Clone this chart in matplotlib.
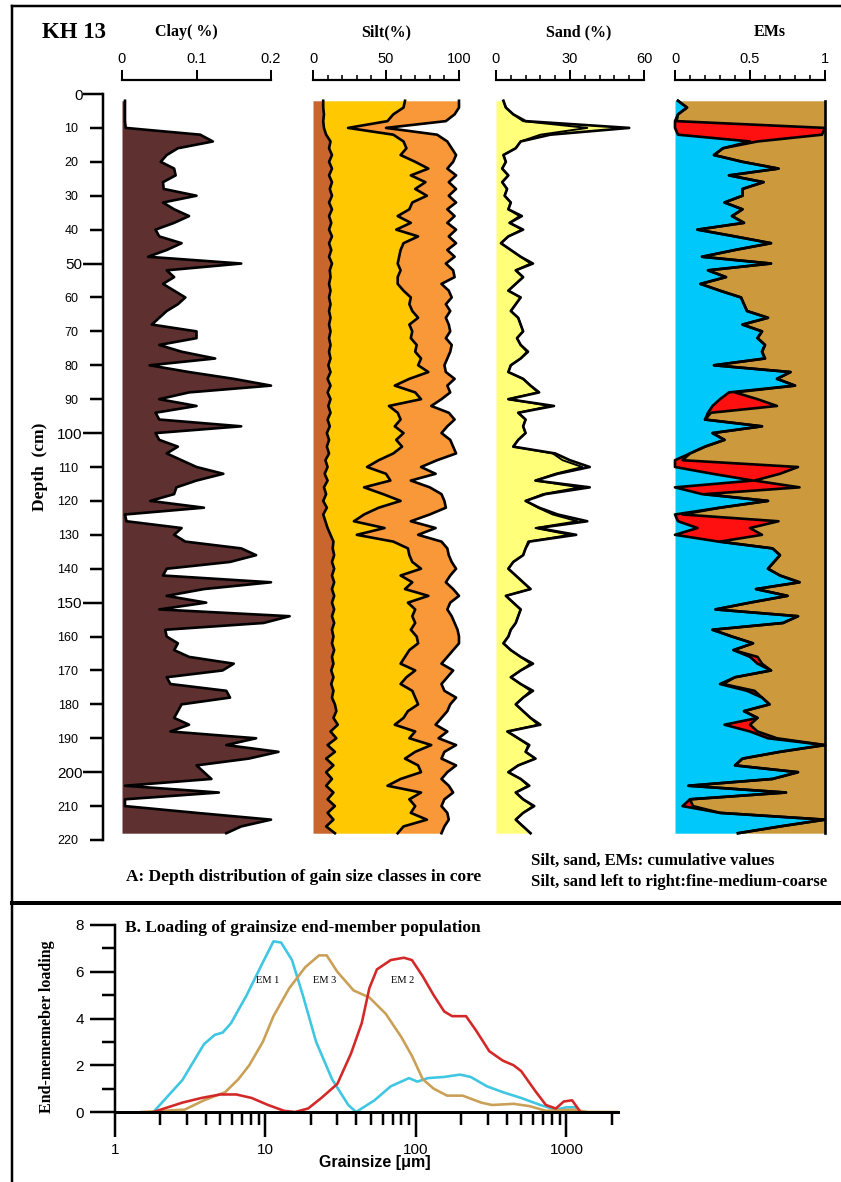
import numpy as np
import matplotlib
matplotlib.use("Agg")
import matplotlib.pyplot as plt
from matplotlib.lines import Line2D
from matplotlib.ticker import FixedLocator, FixedFormatter, LogLocator, NullFormatter

# ---------------------------------------------------------------- data
depth = list(range(2, 220, 2))

clay = [0.004, 0.004, 0.004, 0.004, 0.005, 0.105, 0.122, 0.075, 0.06, 0.052,
        0.07, 0.072, 0.055, 0.056, 0.10, 0.055, 0.07, 0.09, 0.07, 0.045,
        0.05, 0.08, 0.06, 0.035, 0.16, 0.06, 0.07, 0.055, 0.07, 0.085,
        0.075, 0.06, 0.05, 0.04, 0.10, 0.10, 0.05, 0.08, 0.125, 0.037,
        0.09, 0.15, 0.20, 0.09, 0.05, 0.10, 0.045, 0.05, 0.16, 0.045,
        0.05, 0.075, 0.06, 0.08, 0.10, 0.136, 0.10, 0.073, 0.07, 0.038,
        0.11, 0.004, 0.006, 0.08, 0.07, 0.085, 0.16, 0.18, 0.145, 0.06,
        0.055, 0.20, 0.11, 0.06, 0.113, 0.05, 0.225, 0.19, 0.058, 0.06,
        0.075, 0.07, 0.09, 0.15, 0.135, 0.06, 0.065, 0.14, 0.145, 0.08,
        0.075, 0.07, 0.09, 0.065, 0.18, 0.14, 0.21, 0.17, 0.10, 0.11,
        0.12, 0.004, 0.13, 0.004, 0.004, 0.10, 0.20, 0.16, 0.14]

# silt, cumulative percent (fine / fine+medium / fine+medium+coarse)
silt_fine = [7, 7, 7.5, 7, 7.5, 9, 12, 11, 13, 11,
             13, 11, 13, 11.5, 13, 11, 13, 11, 12.5, 11,
             13, 11, 12.5, 11, 13, 11.5, 12, 11, 12, 11,
             12, 11, 12, 11, 12, 11, 12, 11, 12, 10.5,
             12, 10, 12, 10, 12, 10.5, 12, 10, 11.5, 9.5,
             11, 9.5, 11, 8.5, 10, 8, 10, 7.5, 9, 7,
             9.5, 7, 8.5, 10, 12, 14, 13.5, 14.5, 13, 14.5,
             13, 14.5, 13, 14.5, 13, 14.5, 13, 14.5, 13, 14,
             13, 14.5, 13, 14, 12.5, 14, 12.5, 14, 13, 15,
             16, 14, 17, 12, 16, 10, 15, 9, 14, 9,
             13, 9, 14, 10, 15, 10, 14, 9, 15]
silt_medium = [63, 62, 55, 51, 24, 55, 62, 64, 60, 70,
               79, 67, 77, 70, 78, 68, 66, 58, 67, 57,
               72, 62, 60, 59, 58, 60, 58, 58, 62, 67,
               66, 68, 72, 66, 68, 67, 71, 70, 74, 72,
               79, 66, 56, 70, 74, 52, 58, 60, 56, 62,
               57, 61, 55, 45, 37, 50, 53, 35, 48, 60,
               45, 35, 28, 49, 30, 55, 65, 66, 68, 74,
               60, 68, 63, 79, 65, 70, 68, 70, 67, 71,
               72, 66, 63, 60, 70, 64, 60, 68, 70, 72,
               65, 62, 56, 70, 66, 81, 70, 63, 72, 74,
               60, 51, 74, 66, 70, 67, 78, 62, 58]
silt_coarse = [100, 100, 97, 91, 50, 85, 92, 95, 98, 96,
               92, 98, 93, 98, 93, 98, 92, 97, 92, 98,
               93, 98, 92, 97, 91, 96, 97, 88, 93, 95,
               91, 94, 91, 93, 94, 91, 95, 94, 92, 90,
               91, 97, 92, 94, 88, 81, 93, 97, 92, 88,
               94, 96, 98, 85, 74, 84, 67, 80, 88, 90,
               91, 80, 67, 84, 72, 88, 92, 93, 95, 98,
               94, 91, 96, 100, 94, 92, 95, 97, 99, 100,
               100, 96, 92, 88, 96, 92, 88, 90, 98, 94,
               92, 88, 84, 92, 86, 98, 90, 88, 98, 92,
               88, 93, 96, 90, 88, 92, 93, 90, 88]

# sand, cumulative percent (fine+medium, total)
sand_fm = [3, 4, 7, 11, 37, 18, 10, 8, 3, 4,
           2.5, 5, 2.5, 4.5, 3.5, 6, 5, 9.5, 5.5, 10.5,
           5, 2, 6, 10, 14, 8, 11, 8, 5, 10,
           8, 6, 9, 10, 11, 8.5, 10, 12.5, 10, 6,
           5, 11, 14, 17, 5, 22, 9, 12, 11, 12,
           9, 7, 23, 27, 35, 24, 16, 34, 19, 12,
           17, 23, 33, 16, 30, 13, 12, 11, 7, 5,
           8, 11, 14, 4, 7, 10, 9, 8, 6, 5,
           3, 6, 10, 14, 10, 6, 10, 14, 11, 8,
           11, 14, 17, 4.6, 9, 13, 12, 16, 9, 5,
           10, 13, 8, 11, 15, 11, 8, 11, 14]
sand_total = [3, 4, 7, 12, 54, 22, 10, 8, 3, 4,
              2.5, 5, 2.5, 4.5, 3.5, 6, 5, 10.5, 5.5, 11,
              5, 2, 6, 10, 15, 8, 11, 8, 5, 10,
              8, 6, 9, 10, 11, 8.5, 10, 13, 10, 6,
              5, 11, 14, 17.5, 5, 23.5, 9, 12, 11, 12,
              9, 7, 24, 30, 38, 25, 16, 38, 20, 12,
              17.5, 25, 37, 17, 32.5, 13.5, 12, 11, 7, 5,
              8, 11, 14, 4, 7, 10, 9, 8, 6, 5,
              3, 6, 10, 15, 10, 6, 10, 15, 11, 8,
              11, 14, 18, 4.6, 9, 13.5, 12, 16, 9, 5,
              10, 13.5, 8, 11, 15.5, 11, 8, 11, 14]

# end members, cumulative (EM1 / EM1+EM2)
em1 = [0.02, 0.08, 0.02, 0.0, 0.0, 0.02, 0.5, 0.32, 0.26, 0.45,
       0.69, 0.36, 0.59, 0.45, 0.45, 0.33, 0.45, 0.38, 0.46, 0.15,
       0.4, 0.64, 0.4, 0.18, 0.64, 0.22, 0.34, 0.17, 0.3, 0.44,
       0.46, 0.48, 0.62, 0.45, 0.58, 0.55, 0.6, 0.58, 0.6, 0.26,
       0.77, 0.68, 0.8, 0.36, 0.3, 0.25, 0.22, 0.2, 0.58, 0.25,
       0.33, 0.2, 0.1, 0.0, 0.0, 0.25, 0.52, 0.0, 0.18, 0.62,
       0.3, 0.0, 0.02, 0.15, 0.0, 0.29, 0.65, 0.7, 0.66, 0.62,
       0.7, 0.83, 0.54, 0.75, 0.5, 0.27, 0.82, 0.72, 0.25, 0.38,
       0.52, 0.39, 0.5, 0.55, 0.64, 0.4, 0.3, 0.48, 0.58, 0.63,
       0.46, 0.55, 0.33, 0.5, 0.62, 1.0, 0.7, 0.45, 0.4, 0.82,
       0.65, 0.09, 0.74, 0.1, 0.05, 0.3, 1.0, 0.7, 0.42]
em12 = [0.02, 0.08, 0.02, 0.01, 1.0, 0.98, 0.55, 0.32, 0.26, 0.45,
        0.69, 0.36, 0.59, 0.45, 0.45, 0.33, 0.45, 0.38, 0.46, 0.15,
        0.4, 0.64, 0.4, 0.18, 0.64, 0.22, 0.34, 0.17, 0.3, 0.44,
        0.46, 0.48, 0.62, 0.45, 0.58, 0.55, 0.6, 0.58, 0.6, 0.26,
        0.77, 0.68, 0.8, 0.4, 0.55, 0.68, 0.24, 0.2, 0.58, 0.25,
        0.33, 0.2, 0.1, 0.05, 0.82, 0.7, 0.53, 0.83, 0.2, 0.62,
        0.3, 0.05, 0.69, 0.5, 0.58, 0.3, 0.65, 0.7, 0.66, 0.62,
        0.7, 0.83, 0.54, 0.75, 0.5, 0.27, 0.82, 0.72, 0.25, 0.38,
        0.52, 0.39, 0.55, 0.58, 0.64, 0.4, 0.32, 0.53, 0.58, 0.63,
        0.46, 0.55, 0.5, 0.55, 0.68, 1.0, 0.7, 0.45, 0.4, 0.82,
        0.65, 0.09, 0.74, 0.1, 0.12, 0.3, 1.0, 0.7, 0.42]

# end-member loadings versus grain size
em1_size = [1.8, 2.8, 3.9, 4.6, 5.2, 5.9, 7.5, 9.6, 11.3, 12.7, 15, 17.7, 21.7,
            27.7, 35.5, 40, 53, 68, 90, 102, 120, 154, 196, 231, 296, 377, 500,
            670, 850, 1000, 1150, 1240]
em1_load = [0, 1.36, 2.9, 3.3, 3.4, 3.8, 5.0, 6.4, 7.3, 7.25, 6.5, 5.0, 3.0,
            1.4, 0.3, 0.0, 0.5, 1.1, 1.45, 1.3, 1.45, 1.5, 1.6, 1.5, 1.1, 0.85,
            0.6, 0.3, 0.1, 0.2, 0.2, 0.0]
em2_size = [1.8, 2.8, 3.75, 5, 6.4, 8.1, 10.4, 13.3, 15.7, 19.2, 23.5, 30, 37,
            43.6, 49, 55, 68, 83, 94, 111, 131, 154, 174, 215, 250, 307, 377,
            445, 500, 620, 730, 850, 960, 1090, 1240]
em2_load = [0, 0.4, 0.6, 0.75, 0.75, 0.6, 0.3, 0.05, 0.0, 0.15, 0.6, 1.2, 2.5,
            3.8, 5.3, 6.1, 6.5, 6.6, 6.5, 5.8, 5.0, 4.3, 4.1, 4.1, 3.5, 2.6, 2.2,
            2.0, 1.75, 0.9, 0.3, 0.15, 0.45, 0.5, 0.0]
em3_size = [1.5, 2.9, 3.9, 5.4, 6.6, 7.8, 9.6, 11.3, 14.4, 18.4, 22.7, 25.5, 30,
            38.5, 49, 63, 80, 94, 111, 131, 161, 204, 272, 320, 445, 570, 730,
            1090, 1400, 2180]
em3_load = [0, 0.1, 0.5, 0.85, 1.4, 2.0, 3.0, 4.1, 5.3, 6.2, 6.7, 6.7, 6.0,
            5.2, 4.9, 4.2, 3.2, 2.4, 1.4, 1.0, 0.7, 0.7, 0.4, 0.3, 0.35, 0.25,
            0.05, 0.1, 0.0, 0.0]

depth_ticks_major = [0, 50, 100, 150, 200]
depth_ticks_minor = [10, 20, 30, 40, 60, 70, 80, 90, 110, 120, 130, 140,
                     160, 170, 180, 190, 210, 220]

# ---------------------------------------------------------------- layout
W, H = 841, 1182
fig = plt.figure(figsize=(W / 100, H / 100), dpi=100)
SERIF = ["Liberation Serif", "DejaVu Serif"]
SANS = ["Liberation Sans", "DejaVu Sans"]
plt.rcParams["font.family"] = SANS


def box(x0, y0, x1, y1):
    return [x0 / W, 1 - y1 / H, (x1 - x0) / W, (y1 - y0) / H]


def fx(x):
    return x / W


def fy(y):
    return 1 - y / H


PX = 0.72  # points per pixel
TOP, BOT = 94, 840
LW = 1.9


def strip_axes(x0, x1, xmax, major, minor):
    ax = fig.add_axes(box(x0, TOP, x1, BOT))
    ax.set_xlim(0, xmax)
    ax.set_ylim(220, 0)
    for s in ("left", "right", "bottom"):
        ax.spines[s].set_visible(False)
    ax.spines["top"].set_position(("outward", 10))
    ax.spines["top"].set_linewidth(2.2 * PX)
    ax.xaxis.set_ticks_position("top")
    ax.xaxis.set_major_locator(FixedLocator(major))
    ax.xaxis.set_minor_locator(FixedLocator(minor))
    ax.tick_params(axis="x", which="major", direction="out", length=10 * PX,
                   width=2 * PX, labelsize=10.5, pad=4 * PX)
    ax.tick_params(axis="x", which="minor", direction="out", length=5 * PX,
                   width=1.6 * PX)
    ax.set_yticks([])
    ax.patch.set_alpha(0)
    return ax


# clay
ax_c = strip_axes(122, 271, 0.2, [0, 0.1, 0.2], [])
ax_c.xaxis.set_major_formatter(FixedFormatter(["0", "0.1", "0.2"]))
ax_c.fill_betweenx(depth, 0, clay, color="#5E3030", lw=0, clip_on=False)
ax_c.plot(clay, depth, color="black", lw=LW, clip_on=False)

# depth axis on the clay strip
ax_c.spines["left"].set_visible(True)
ax_c.spines["left"].set_position(("outward", 14))
ax_c.spines["left"].set_linewidth(2.5 * PX)
ax_c.spines["left"].set_bounds(0, 220)
ax_c.yaxis.set_ticks_position("left")
ax_c.yaxis.set_major_locator(FixedLocator(depth_ticks_major))
ax_c.yaxis.set_minor_locator(FixedLocator(depth_ticks_minor))
ax_c.yaxis.set_major_formatter(FixedFormatter([str(v) for v in depth_ticks_major]))
ax_c.yaxis.set_minor_formatter(FixedFormatter([str(v) for v in depth_ticks_minor]))
ax_c.tick_params(axis="y", which="major", direction="out", length=20 * PX,
                 width=2.5 * PX, labelsize=11, pad=0)
ax_c.tick_params(axis="y", which="minor", direction="out", length=13 * PX,
                 width=2.5 * PX, labelsize=9, pad=11 * PX)

# silt
ax_s = strip_axes(313, 459, 100, [0, 50, 100], [10, 20, 30, 40, 60, 70, 80, 90])
ax_s.fill_betweenx(depth, 0, silt_fine, color="#C8662E", lw=0)
ax_s.fill_betweenx(depth, silt_fine, silt_medium, color="#FFC800", lw=0)
ax_s.fill_betweenx(depth, silt_medium, silt_coarse, color="#F89838", lw=0)
for series in (silt_fine, silt_medium, silt_coarse):
    ax_s.plot(series, depth, color="black", lw=LW, clip_on=False)

# sand
ax_d = strip_axes(496, 644, 60, [0, 30, 60],
                  [6, 12, 18, 24, 36, 42, 48, 54])
ax_d.fill_betweenx(depth, 0, sand_total, color="#FFFF7A", lw=0, clip_on=False)
ax_d.plot(sand_fm, depth, color="black", lw=1.4, clip_on=False)
ax_d.plot(sand_total, depth, color="black", lw=LW, clip_on=False)

# end members
ax_e = strip_axes(675, 825, 1, [0, 0.5, 1],
                  [0.1, 0.2, 0.3, 0.4, 0.6, 0.7, 0.8, 0.9])
ax_e.xaxis.set_major_formatter(FixedFormatter(["0", "0.5", "1"]))
ax_e.fill_betweenx(depth, 0, em1, color="#00C8FA", lw=0)
ax_e.fill_betweenx(depth, em1, em12, color="#FF1010", lw=0)
ax_e.fill_betweenx(depth, em12, 1, color="#CC9A3C", lw=0)
ax_e.plot(em1, depth, color="black", lw=LW, clip_on=False)
ax_e.plot(em12, depth, color="black", lw=LW, clip_on=False)
ax_e.plot([1, 1], [depth[0], depth[-1]], color="black", lw=LW, clip_on=False)

# headers
hdr = dict(family=SERIF, weight="bold", ha="center", va="center")
fig.text(fx(74), fy(33), "KH 13", fontsize=16.5, **hdr)
fig.text(fx(186), fy(32), "Clay( %)", fontsize=11.5, **hdr)
fig.text(fx(386), fy(32), "Silt(%)", fontsize=11.5, **hdr)
fig.text(fx(579), fy(32), "Sand (%)", fontsize=11.5, **hdr)
fig.text(fx(770), fy(32), "EMs", fontsize=11.5, **hdr)
fig.text(fx(40), fy(467), "Depth  (cm)", rotation=90, fontsize=12.5, **hdr)

note = dict(family=SERIF, weight="bold", ha="left", va="center")
fig.text(fx(126), fy(877), "A: Depth distribution of gain size classes in core",
         fontsize=12.5, **note)
fig.text(fx(531), fy(861), "Silt, sand, EMs: cumulative values", fontsize=12, **note)
fig.text(fx(531), fy(882), "Silt, sand left to right:fine-medium-coarse",
         fontsize=12, **note)

# frame
fig.add_artist(Line2D([fx(12), fx(12)], [fy(6), fy(H)], color="black", lw=2.5 * PX))
fig.add_artist(Line2D([fx(12), fx(W + 5)], [fy(6), fy(6)], color="black", lw=2.5 * PX))
fig.add_artist(Line2D([fx(12), fx(W + 5)], [fy(903), fy(903)], color="black", lw=4 * PX))

# ---------------------------------------------------------------- loadings
ax_b = fig.add_axes(box(115, 925, 618, 1112))
ax_b.set_xscale("log")
ax_b.set_xlim(1, 2200)
ax_b.set_ylim(0, 8)
ax_b.plot(em1_size, em1_load, color="#3EC6E2", lw=2.6 * PX)
ax_b.plot(em3_size, em3_load, color="#C9A055", lw=2.6 * PX)
ax_b.plot(em2_size, em2_load, color="#D42828", lw=2.6 * PX)
for s in ("top", "right"):
    ax_b.spines[s].set_visible(False)
ax_b.spines["left"].set_linewidth(2.5 * PX)
ax_b.spines["bottom"].set_linewidth(3 * PX)
ax_b.set_yticks([0, 2, 4, 6, 8])
ax_b.set_yticks([1, 3, 5, 7], minor=True)
ax_b.xaxis.set_major_locator(FixedLocator([1, 10, 100, 1000]))
ax_b.xaxis.set_major_formatter(FixedFormatter(["1", "10", "100", "1000"]))
ax_b.xaxis.set_minor_locator(LogLocator(base=10, subs=range(2, 10), numticks=20))
ax_b.xaxis.set_minor_formatter(NullFormatter())
ax_b.tick_params(which="major", direction="out", length=25 * PX, width=2.5 * PX,
                 labelsize=11, pad=6 * PX)
ax_b.tick_params(which="minor", direction="out", length=13 * PX, width=2.5 * PX)
ax_b.patch.set_alpha(0)

for label, xs, ys in (("EM 1", 10.4, 5.64), ("EM 3", 24.8, 5.64), ("EM 2", 81.5, 5.64)):
    ax_b.text(xs, ys, label, family=SERIF, fontsize=7.5, ha="center", va="center")

fig.text(fx(125), fy(928), "B. Loading of grainsize end-member population",
         family=SERIF, weight="bold", fontsize=12.5, ha="left", va="center")
fig.text(fx(47), fy(1027), "End-mememeber loading", rotation=90,
         family=SERIF, weight="bold", fontsize=11.5, ha="center", va="center")
fig.text(fx(375), fy(1163), "Grainsize [\u03bcm]", family=SANS, weight="bold",
         fontsize=11.5, ha="center", va="center")

fig.savefig("out.png", dpi=100)
